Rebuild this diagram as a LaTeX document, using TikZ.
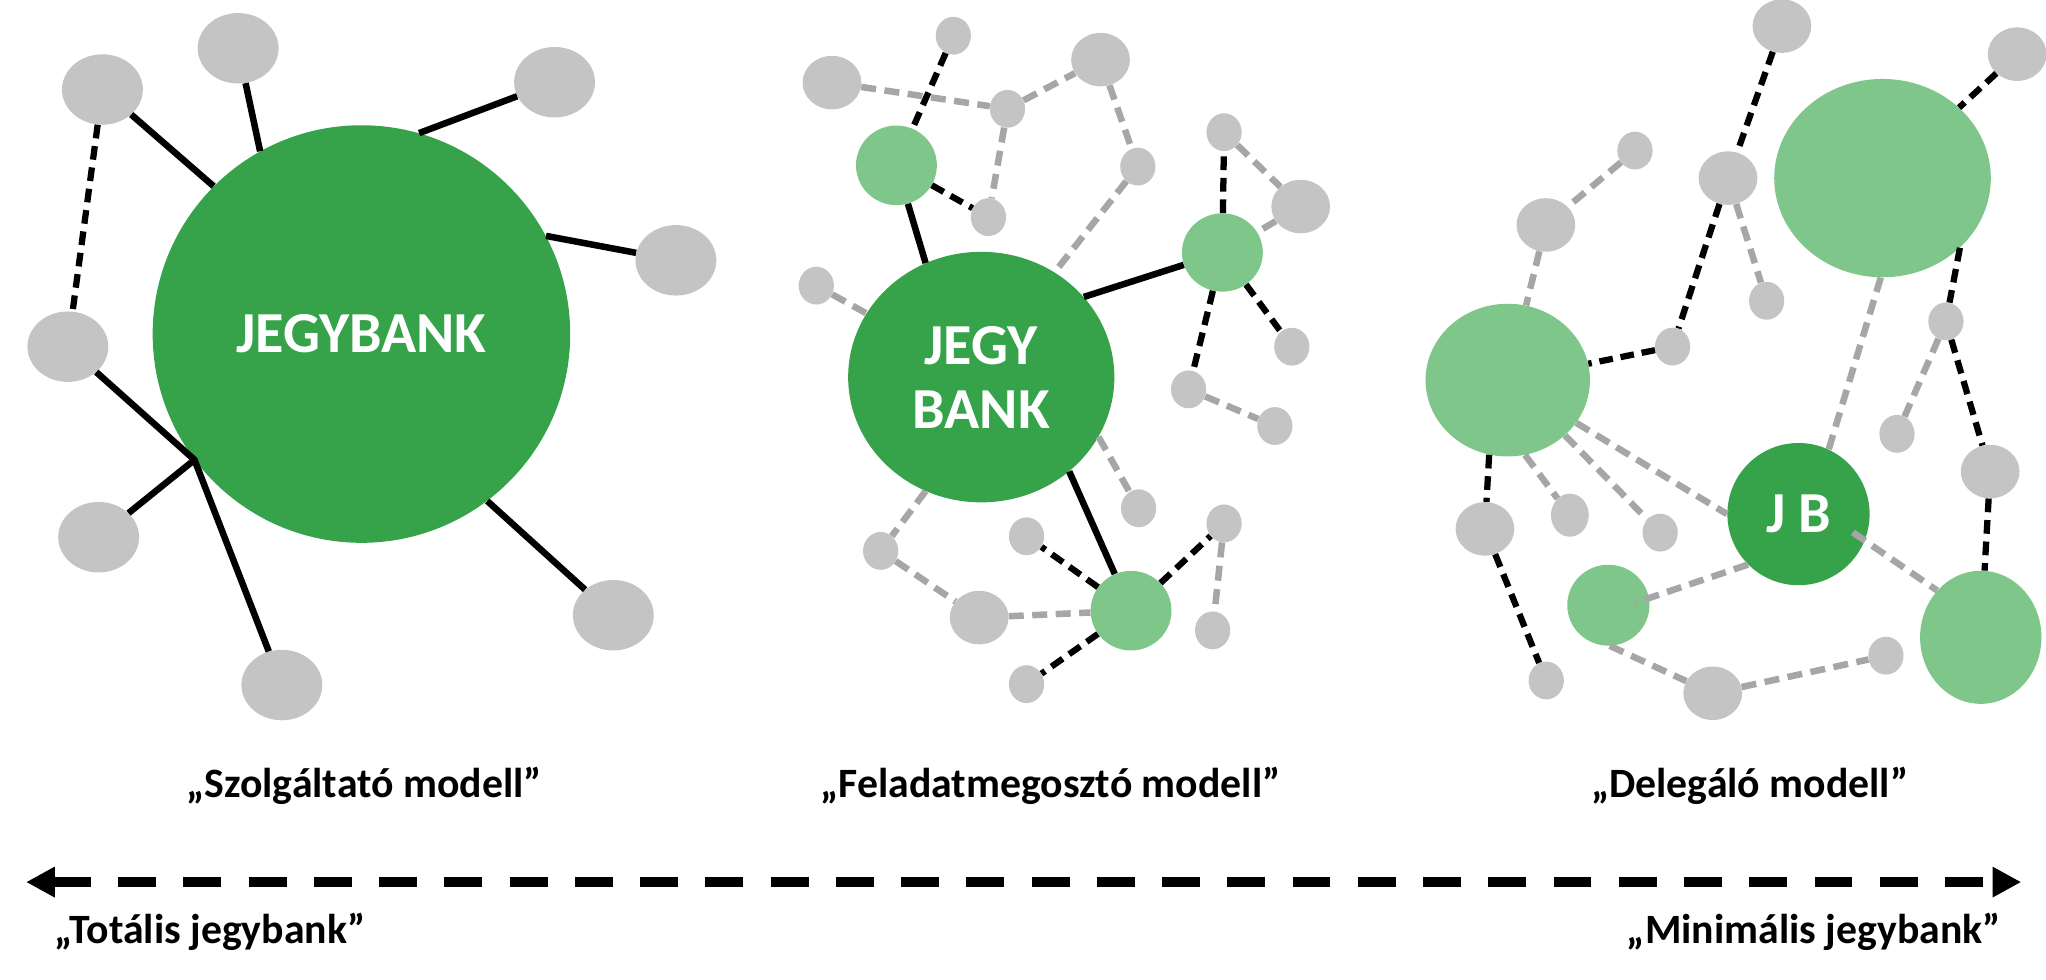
\documentclass[tikz,border=0pt]{standalone}
\usepackage{fontspec}
\setmainfont{Carlito}
\usetikzlibrary{shapes.geometric,arrows.meta}
\definecolor{dkgreen}{RGB}{54,162,73}
\definecolor{ltgreen}{RGB}{127,198,138}
\definecolor{ndgray}{RGB}{196,196,196}
\definecolor{lngray}{RGB}{166,166,166}
\begin{document}
\begin{tikzpicture}[x=1pt,y=-1pt,
  blob/.style={ellipse,inner sep=0pt,draw=none},
  gbig/.style={blob,fill=ndgray,minimum width=62pt,minimum height=54pt},
  gmid/.style={blob,fill=ndgray,minimum width=45pt,minimum height=41pt},
  gsm/.style={blob,fill=ndgray,minimum width=27pt,minimum height=29pt},
  lg/.style={blob,fill=ltgreen},
  dg/.style={blob,fill=dkgreen,text=white,font=\fontsize{44.5}{49}\selectfont\bfseries},
  solidln/.style={line width=5pt,black},
  bdash/.style={line width=4.8pt,black,dash pattern=on 10.5pt off 6pt},
  gdash/.style={line width=5pt,lngray,dash pattern=on 11.5pt off 6.5pt},
  lbl/.style={font=\fontsize{32}{36}\selectfont\bfseries,inner sep=0pt},
  scalearrow/.style={line width=7.5pt,black,dash pattern=on 29pt off 21pt,
    {Triangle[length=22pt,width=22pt]}-{Triangle[length=22pt,width=22pt]}}
]
\useasboundingbox (0,0) rectangle (1568,751);

% ---------- left: Szolgaltato modell ----------
\node[dg,circle,minimum size=320pt] (C) at (277,256) {JEGYBANK};
\node[gbig] (n1) at (78.5,68.6) {};
\node[gbig] (n2) at (182.5,37) {};
\node[gbig] (n3) at (425,63) {};
\node[gbig] (n4) at (518,199.5) {};
\node[gbig] (n5) at (52,265.7) {};
\node[gbig] (n6) at (75.6,411.7) {};
\node[gbig] (n7) at (470,471.5) {};
\node[gbig] (n8) at (216,525) {};
\coordinate (J) at (C.-143);
\draw[solidln] (n1) -- (C.135);
\draw[solidln] (n2) -- (C.119);
\draw[solidln] (n3) -- (C.74);
\draw[solidln] (n4) -- (C.28);
\draw[solidln] (n7) -- (C.-53.5);
\draw[solidln] (n5) -- (J) -- (n8);
\draw[solidln] (n6) -- (J);
\draw[bdash] (n1) -- (n5);

% ---------- middle: Feladatmegoszto modell ----------
\node[dg,minimum width=204pt,minimum height=192pt,align=center] (M) at (752,289) {JEGY\\BANK};
\node[lg,minimum width=62pt,minimum height=61pt] (g1) at (687,126.7) {};
\node[lg,minimum width=62pt,minimum height=60pt] (g2) at (936.8,193.5) {};
\node[lg,minimum width=62pt,minimum height=61pt] (g3) at (866.8,468) {};
\node[gmid] (m1) at (637.6,63.3) {};
\node[gsm] (m2) at (730.6,27.4) {};
\node[gsm] (m3) at (772.1,83.4) {};
\node[gmid] (m4) at (843.4,45.7) {};
\node[gsm] (m5) at (872,127.7) {};
\node[gsm] (m6) at (757.5,166.4) {};
\node[gsm] (m7) at (625.6,218.9) {};
\node[gsm] (m8) at (938.1,101.3) {};
\node[gmid] (m9) at (996.8,158.3) {};
\node[gsm] (m10) at (990,265.7) {};
\node[gsm] (m11) at (910.9,298.4) {};
\node[gsm] (m12) at (977,326.5) {};
\node[gsm] (m13) at (872.6,389.5) {};
\node[gsm] (m14) at (938.1,401.1) {};
\node[gsm] (m15) at (786.7,411) {};
\node[gsm] (m16) at (674.9,422.2) {};
\node[gmid] (m17) at (750.4,473.3) {};
\node[gsm] (m18) at (929.3,483.1) {};
\node[gsm] (m19) at (786.7,524.3) {};
\draw[solidln] (g1) -- (M.116);
\draw[solidln] (g2) -- (M.38);
\draw[solidln] (g3) -- (M.-47);
\draw[bdash] (m2) -- (g1);
\draw[bdash] (g1) -- (m6);
\draw[bdash] (g2) -- (m8);
\draw[bdash] (g2) -- (m10);
\draw[bdash] (g2) -- (m11);
\draw[bdash] (g3) -- (m15);
\draw[bdash] (g3) -- (m14);
\draw[bdash] (g3) -- (m19);
\draw[gdash] (m1) -- (m3);
\draw[gdash] (m3) -- (m4);
\draw[gdash] (m3) -- (m6);
\draw[gdash] (m4) -- (m5);
\draw[gdash] (m5) -- (M.55);
\draw[gdash] (m7) -- (M);
\draw[gdash] (m8) -- (m9);
\draw[gdash] (m9) -- (g2);
\draw[gdash] (m11) -- (m12);
\draw[gdash] (M.-27) -- (m13);
\draw[gdash] (M.-116) -- (m16);
\draw[gdash] (m16) -- (m17);
\draw[gdash] (m17) -- (g3);
\draw[gdash] (m14) -- (m18);

% ---------- right: Delegalo modell ----------
\node[lg,minimum width=166pt,minimum height=152pt] (G1) at (1442.7,136.5) {};
\node[lg,minimum width=126pt,minimum height=117pt] (G2) at (1155.5,291.3) {};
\node[lg,minimum width=63pt,minimum height=62pt] (G3) at (1232.6,463.8) {};
\node[lg,minimum width=93pt,minimum height=102pt] (G4) at (1518,488.4) {};
\node[dg,circle,minimum size=109pt] (JB) at (1378.3,394) {J B};
\node[gmid] (r1) at (1365.6,20) {};
\node[gmid] (r2) at (1545.9,41.5) {};
\node[gsm] (r3) at (1253,115.4) {};
\node[gmid] (r4) at (1184.7,172.4) {};
\node[gmid] (r5) at (1324.3,136.5) {};
\node[gsm] (r6) at (1353.9,230.5) {};
\node[gsm] (r7) at (1281.8,265.6) {};
\node[gsm] (r8) at (1491.3,246.3) {};
\node[gsm] (r9) at (1453.8,332.5) {};
\node[gmid] (r10) at (1525.2,361.4) {};
\node[gmid] (r11) at (1138,405.3) {};
\node[gsm,minimum height=33pt,minimum width=29pt] (r12) at (1203.1,394.8) {};
\node[gsm] (r13) at (1272.3,408.2) {};
\node[gsm] (r14) at (1445.3,502.5) {};
\node[gmid] (r15) at (1312.6,531.3) {};
\node[gsm] (r16) at (1185,521.5) {};
\coordinate (g3in) at (1253,462);
\coordinate (jbin) at (1420,408);
\draw[bdash] (r1) -- (r5);
\draw[bdash] (r5) -- (r7);
\draw[bdash] (r7) -- (G2);
\draw[bdash] (r2) -- (G1);
\draw[bdash] (G1.-42) -- (r8) -- (r10) -- (G4);
\draw[bdash] (G2.-104) -- (r11) -- (r16);
\draw[gdash] (r3) -- (r4);
\draw[gdash] (r4) -- (G2);
\draw[gdash] (r5) -- (r6);
\draw[gdash] (G1.-91) -- (JB.65);
\draw[gdash] (r8) -- (r9);
\draw[gdash] (G2.-32) -- (JB.180);
\draw[gdash] (G2.-77) -- (r12);
\draw[gdash] (G2.-44) -- (r13);
\draw[gdash] (JB.-135) -- (g3in);
\draw[gdash] (jbin) -- (G4.133);
\draw[gdash] (G3.-88) -- (r15);
\draw[gdash] (r15) -- (r14);

% ---------- labels and scale ----------
\node[lbl] (t1) at (279,602) {„Szolgáltató modell”};
\node[lbl] (t2) at (805,602) {„Feladatmegosztó modell”};
\node[lbl] (t3) at (1341,602) {„Delegáló modell”};
\coordinate (aL) at (20,676);
\coordinate (aR) at (1549,676);
\draw[scalearrow] (aL) -- (aR);
\node[lbl] (t4) at (161,714) {„Totális jegybank”};
\node[lbl] (t5) at (1390,714) {„Minimális jegybank”};
\end{tikzpicture}
\end{document}
